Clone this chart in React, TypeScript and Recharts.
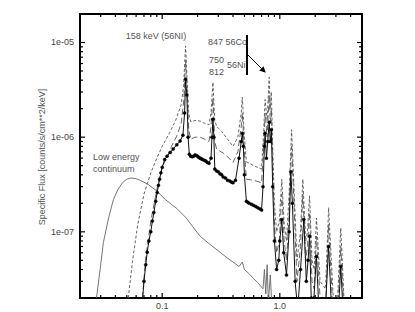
import React from 'react';
import { LineChart, Line, XAxis, YAxis } from 'recharts';

// energy (MeV) / flux pairs
const contE = [0.027, 0.03, 0.0316, 0.035, 0.0385, 0.042, 0.046, 0.05, 0.054, 0.06, 0.065, 0.075, 0.09, 0.106, 0.134, 0.16, 0.18, 0.21, 0.25, 0.3, 0.35, 0.4, 0.45, 0.48, 0.5, 0.55, 0.6, 0.65, 0.7, 0.72, 0.74, 0.76, 0.78, 0.8, 0.83, 0.86, 0.9];
const contF = [1.6e-8, 4.5e-8, 7.7e-8, 1.4e-7, 2.2e-7, 2.8e-7, 3.3e-7, 3.6e-7, 3.7e-7, 3.65e-7, 3.5e-7, 3.2e-7, 2.7e-7, 2.2e-7, 1.75e-7, 1.4e-7, 1.15e-7, 9.0e-8, 7.5e-8, 6.3e-8, 5.4e-8, 4.8e-8, 4.3e-8, 4.8e-8, 4.0e-8, 3.6e-8, 3.2e-8, 2.9e-8, 2.6e-8, 2.5e-8, 4.0e-8, 2.2e-8, 4.5e-8, 1.8e-8, 3.5e-8, 1.5e-8, 1.0e-8];

const upperE = [0.0515, 0.056, 0.062, 0.07, 0.08, 0.09, 0.1, 0.115, 0.13, 0.145, 0.152, 0.158, 0.163, 0.168, 0.175, 0.19, 0.21, 0.23, 0.25, 0.26, 0.27, 0.28, 0.29, 0.32, 0.36, 0.4, 0.44, 0.47, 0.48, 0.5, 0.52, 0.6, 0.7, 0.73, 0.75, 0.78, 0.812, 0.83, 0.847, 0.87, 0.9, 0.94, 0.99, 1.04, 1.09, 1.14, 1.2, 1.26, 1.32, 1.4, 1.5, 1.57, 1.66, 1.72, 1.79, 1.88, 1.96, 2.05, 2.2, 2.45, 2.6, 2.85, 3.1, 3.3, 3.6];
const upperF = [2e-8, 5e-8, 1.2e-7, 2.5e-7, 4.2e-7, 6e-7, 8e-7, 1.1e-6, 1.5e-6, 2.2e-6, 3.5e-6, 9.2e-6, 4e-6, 1.8e-6, 1.45e-6, 1.5e-6, 1.48e-6, 1.4e-6, 1.35e-6, 1.8e-6, 3.8e-6, 1.5e-6, 1.3e-6, 1.15e-6, 9.5e-7, 8e-7, 1.0e-6, 1.8e-6, 2.65e-6, 1.0e-6, 5.5e-7, 5e-7, 4.6e-7, 1.2e-6, 2.5e-6, 1.5e-6, 4.3e-6, 2e-6, 3e-6, 8e-7, 2e-7, 1e-7, 1.3e-7, 3.6e-7, 1.2e-7, 8e-8, 2.5e-7, 1.2e-6, 3e-7, 5e-8, 1e-7, 3.6e-7, 8e-8, 1e-7, 2.4e-7, 5e-8, 4e-8, 1.4e-7, 3e-8, 2.5e-8, 1.8e-7, 2e-8, 2e-8, 1.1e-7, 1e-8];

const midE = [0.068, 0.072, 0.08, 0.09, 0.1, 0.11, 0.12, 0.134, 0.145, 0.153, 0.158, 0.163, 0.168, 0.175, 0.19, 0.21, 0.23, 0.25, 0.26, 0.27, 0.28, 0.29, 0.33, 0.37, 0.4, 0.44, 0.47, 0.48, 0.5, 0.52, 0.6, 0.7, 0.73, 0.75, 0.78, 0.812, 0.83, 0.847, 0.87, 0.9, 0.94, 0.99, 1.04, 1.09, 1.14, 1.2, 1.26, 1.32, 1.4, 1.5, 1.57, 1.66, 1.72, 1.79, 1.88, 1.96, 2.05, 2.2, 2.45, 2.6, 2.85, 3.1, 3.3, 3.6];
const midF = [2e-8, 5e-8, 1.3e-7, 2.8e-7, 4.8e-7, 6.2e-7, 8e-7, 1.05e-6, 1.4e-6, 2.5e-6, 6.5e-6, 3e-6, 1.2e-6, 9.5e-7, 1.0e-6, 1.0e-6, 9.5e-7, 9e-7, 1.3e-6, 2.6e-6, 9e-7, 7.5e-7, 6.8e-7, 6e-7, 5.4e-7, 7e-7, 1.3e-6, 1.8e-6, 7e-7, 3.6e-7, 3.5e-7, 3.3e-7, 8e-7, 1.8e-6, 1e-6, 2.8e-6, 1.4e-6, 2e-6, 5e-7, 1.2e-7, 6e-8, 8e-8, 2.5e-7, 8e-8, 5e-8, 1.5e-7, 8e-7, 2e-7, 3e-8, 7e-8, 2.5e-7, 5e-8, 7e-8, 1.6e-7, 3e-8, 2.5e-8, 9e-8, 2e-8, 1.5e-8, 1.2e-7, 1.2e-8, 1.2e-8, 7e-8, 8e-9];

const dotE = [0.067, 0.07, 0.0725, 0.0746, 0.077, 0.08, 0.0825, 0.085, 0.088, 0.0907, 0.093, 0.095, 0.0975, 0.1, 0.105, 0.11, 0.117, 0.124, 0.133, 0.142, 0.15, 0.155, 0.158, 0.162, 0.166, 0.17, 0.175, 0.18, 0.185, 0.19, 0.195, 0.2, 0.205, 0.21, 0.215, 0.22, 0.228, 0.235, 0.242, 0.25, 0.26, 0.265, 0.27, 0.275, 0.28, 0.29, 0.3, 0.31, 0.32, 0.33, 0.345, 0.36, 0.375, 0.39, 0.4, 0.42, 0.45, 0.47, 0.48, 0.49, 0.5, 0.52, 0.535, 0.55, 0.575, 0.6, 0.625, 0.65, 0.675, 0.7, 0.72, 0.74, 0.75, 0.77, 0.79, 0.812, 0.83, 0.847, 0.87, 0.9, 0.94, 0.98, 1.0, 1.04, 1.08, 1.14, 1.2, 1.24, 1.28, 1.35, 1.42, 1.5, 1.6, 1.68, 1.74, 1.79, 1.85, 1.95, 2.05, 2.15, 2.4, 2.6, 2.8, 3.1, 3.3, 3.5];
const dotF = [1.5e-8, 3e-8, 4.5e-8, 6.1e-8, 8e-8, 1.0e-7, 1.3e-7, 1.6e-7, 2.1e-7, 2.6e-7, 3.1e-7, 3.6e-7, 4.2e-7, 4.8e-7, 5.8e-7, 6.3e-7, 6.9e-7, 7.5e-7, 8.3e-7, 9.1e-7, 1.05e-6, 1.8e-6, 4.1e-6, 2.8e-6, 1.0e-6, 6.6e-7, 6.3e-7, 6.2e-7, 6.3e-7, 6.5e-7, 6.4e-7, 6.3e-7, 6.1e-7, 6.0e-7, 5.9e-7, 5.8e-7, 5.7e-7, 5.6e-7, 5.4e-7, 5.3e-7, 6e-7, 1.0e-6, 1.55e-6, 1.0e-6, 4.6e-7, 4.4e-7, 4.3e-7, 4.1e-7, 4.0e-7, 3.8e-7, 3.7e-7, 3.5e-7, 3.45e-7, 3.35e-7, 3.3e-7, 3.5e-7, 6e-7, 9e-7, 1.1e-6, 8e-7, 4e-7, 2.1e-7, 2.05e-7, 2.0e-7, 1.95e-7, 1.9e-7, 1.85e-7, 1.8e-7, 1.75e-7, 1.7e-7, 3e-7, 8e-7, 1.1e-6, 6e-7, 9e-7, 1.44e-6, 9e-7, 1.2e-6, 3e-7, 8e-8, 4e-8, 5e-8, 8e-8, 1.35e-7, 6e-8, 3.5e-8, 1e-7, 4.3e-7, 2e-7, 3e-8, 1.5e-8, 4e-8, 1.35e-7, 3e-8, 5e-8, 9e-8, 2e-8, 2e-8, 5.5e-8, 1.5e-8, 1e-8, 7e-8, 1e-8, 1e-8, 4.3e-8, 1e-8];

const xTicks = [0.02, 0.03, 0.04, 0.05, 0.06, 0.07, 0.08, 0.09, 0.1, 0.2, 0.3, 0.4, 0.5, 0.6, 0.7, 0.8, 0.9, 1, 2, 3, 4, 5];
const xLabels: Record<string, string> = { '0.1': '0.1', '1': '1.0' };
const yTicks = [2e-8, 3e-8, 4e-8, 5e-8, 6e-8, 7e-8, 8e-8, 9e-8, 1e-7, 2e-7, 3e-7, 4e-7, 5e-7, 6e-7, 7e-7, 8e-7, 9e-7, 1e-6, 2e-6, 3e-6, 4e-6, 5e-6, 6e-6, 7e-6, 8e-6, 9e-6, 1e-5, 2e-5];
const yLabels: Record<string, string> = { '1e-7': '1e-07', '0.000001': '1e-06', '0.00001': '1e-05' };

const pairs = (e: number[], f: number[]) => e.map((v, i) => ({ e: v, f: f[i] }));

const isMajor = (v: number) => Math.abs(Math.log10(v) - Math.round(Math.log10(v))) < 1e-6;
const font = '"Liberation Sans", Arial, sans-serif';

// plot box (page pixels) and the matching log mapping, used only for the frame decoration
const box = { left: 80, top: 14, right: 362, bottom: 298 };
const xDom = [0.02, 5];
const yDom = [2e-8, 2e-5];
const px = (v: number) => box.left + (Math.log10(v) - Math.log10(xDom[0])) / (Math.log10(xDom[1]) - Math.log10(xDom[0])) * (box.right - box.left);
const py = (v: number) => box.bottom - (Math.log10(v) - Math.log10(yDom[0])) / (Math.log10(yDom[1]) - Math.log10(yDom[0])) * (box.bottom - box.top);

const BottomTick = (p: any) => {
  const lab = xLabels[String(p.payload.value)];
  return <text x={p.x} y={p.y + 11} textAnchor="middle" fontSize={9} fill="#444" fontFamily={font}>{lab || ''}</text>;
};
const LeftTick = (p: any) => {
  const lab = yLabels[String(p.payload.value)];
  return <text x={p.x - 6} y={p.y + 3} textAnchor="end" fontSize={9} fill="#444" fontFamily={font}>{lab || ''}</text>;
};

// frame with inward ticks on all four sides
const Frame = () => (
  <g stroke="#000">
    <rect x={box.left} y={box.top} width={box.right - box.left} height={box.bottom - box.top} fill="none" strokeWidth={2} />
    {xTicks.map((v) => {
      const l = isMajor(v) ? 5 : 3;
      return (
        <g key={'x' + v} strokeWidth={1.2}>
          <line x1={px(v)} x2={px(v)} y1={box.bottom} y2={box.bottom - l} />
          <line x1={px(v)} x2={px(v)} y1={box.top} y2={box.top + l} />
        </g>
      );
    })}
    {yTicks.map((v) => {
      const l = isMajor(v) ? 5 : 3;
      return (
        <g key={'y' + v} strokeWidth={1.2}>
          <line x1={box.left} x2={box.left + l} y1={py(v)} y2={py(v)} />
          <line x1={box.right} x2={box.right - l} y1={py(v)} y2={py(v)} />
        </g>
      );
    })}
  </g>
);

export default function App() {
  const ann = { fontSize: 9, fill: '#555', fontFamily: font };
  return (
    <div style={{ position: 'absolute', left: 0, top: 0, width: 415, height: 312 }}>
      <svg width={415} height={312} style={{ position: 'absolute', left: 0, top: 0 }}>
        <defs>
          <marker id="ah" markerWidth="6" markerHeight="6" refX="5" refY="3" orient="auto">
            <path d="M0,0 L6,3 L0,6 Z" fill="#000" />
          </marker>
        </defs>
        <Frame />
        <text x={156} y={39} textAnchor="middle" {...ann}>158 keV (56NI)</text>
        <text x={208} y={45} {...ann}>847 56Co</text>
        <text x={209} y={63} {...ann}>750</text>
        <text x={227} y={68} {...ann}>56Ni</text>
        <text x={209} y={75} {...ann}>812</text>
        <line x1={247} x2={247} y1={35} y2={75} stroke="#000" strokeWidth={2} />
        <line x1={247} y1={54} x2={265} y2={72} stroke="#000" strokeWidth={1} markerEnd="url(#ah)" />
        <text x={93} y={160} {...ann}>Low energy</text>
        <text x={93} y={172} {...ann}>continuum</text>
        <text x={42} y={157} transform="rotate(-90 42 157)" textAnchor="middle" dy="0.35em" {...ann}>
          Specific Flux [counts/s/cm**2/keV]
        </text>
      </svg>
      <div style={{ position: 'absolute', left: 0, top: 0 }}>
        <LineChart width={415} height={312} margin={{ top: 14, right: 53, bottom: 0, left: 20 }}>
          <XAxis dataKey="e" type="number" scale="log" domain={xDom} ticks={xTicks} interval={0} allowDataOverflow
            tick={BottomTick} tickSize={0} tickMargin={0} height={14} axisLine={false} tickLine={false} />
          <YAxis type="number" scale="log" domain={yDom} ticks={yTicks} interval={0} allowDataOverflow
            tick={LeftTick} tickSize={0} tickMargin={0} width={60} axisLine={false} tickLine={false} />

          <Line data={pairs(contE, contF)} dataKey="f" stroke="#666" strokeWidth={0.9} dot={false} isAnimationActive={false} />
          <Line data={pairs(upperE, upperF)} dataKey="f" stroke="#555" strokeWidth={0.9} strokeDasharray="3 2" dot={false} isAnimationActive={false} />
          <Line data={pairs(midE, midF)} dataKey="f" stroke="#555" strokeWidth={0.9} strokeDasharray="6 3" dot={false} isAnimationActive={false} />
          <Line data={pairs(dotE, dotF)} dataKey="f" stroke="#111" strokeWidth={1} dot={{ r: 1.5, fill: '#000', stroke: '#000', strokeWidth: 0.5 }} isAnimationActive={false} />
        </LineChart>
      </div>
    </div>
  );
}
